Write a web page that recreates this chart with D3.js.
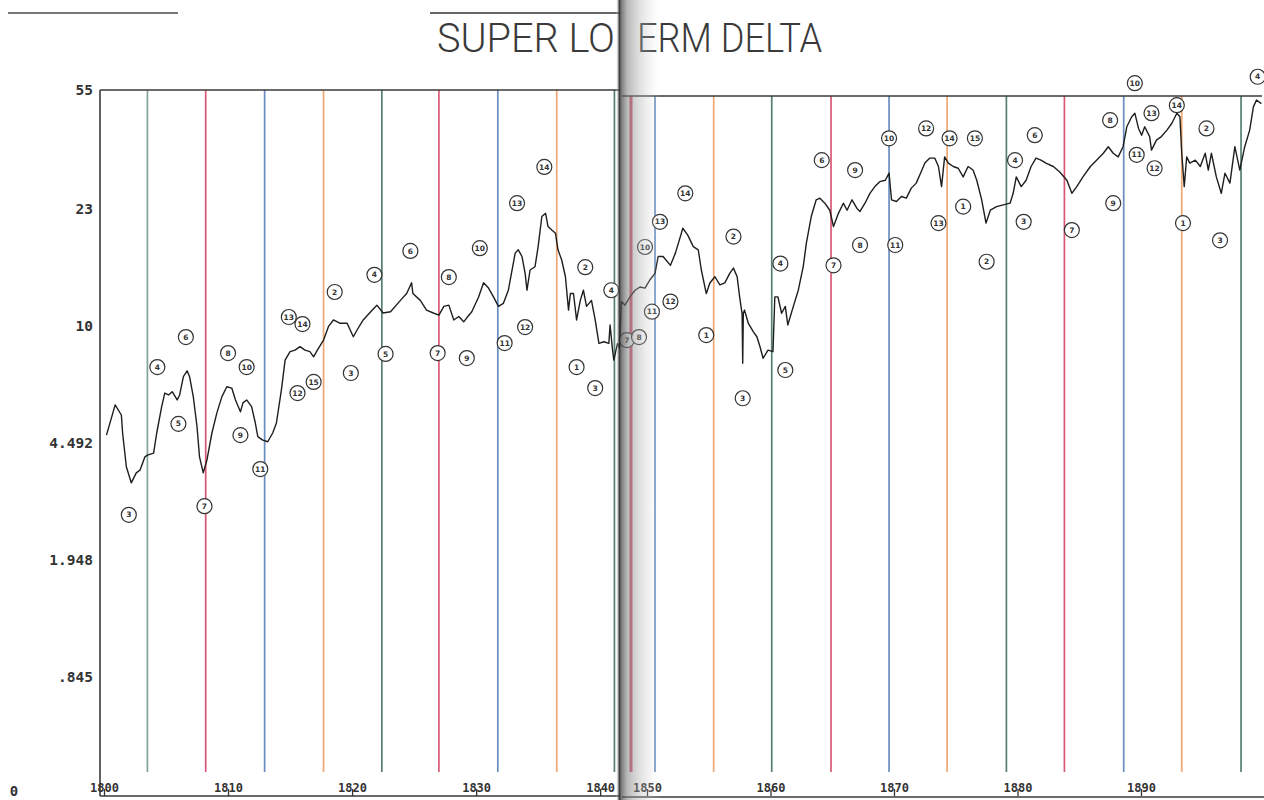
<!DOCTYPE html>
<html><head><meta charset="utf-8">
<script src="https://cdn.jsdelivr.net/npm/d3@7"></script>
<style>html,body{margin:0;padding:0;background:#fff;overflow:hidden}</style>
</head><body>
<svg id="c" width="1264" height="800"></svg>
<script>
// ---------------- DATA ----------------
const titleParts = ["SUPER LO", "ERM DELTA"];

const years = [
1800.2,1800.9,1801.4,1801.5,1801.8,1802.2,1802.6,1802.9,1803.3,1803.5,1804.0,1804.25,1804.65,1804.9,1805.2,1805.5,1805.9,1806.1,1806.4,1806.7,1806.9,1807.2,1807.5,1807.7,1808.0,1808.3,1808.7,1809.1,1809.5,1809.9,
1810.3,1810.6,1811.0,1811.2,1811.5,1811.9,1812.2,1812.4,1812.8,1813.2,1813.6,1813.9,1814.3,1814.6,1815.0,1815.4,1815.8,1816.2,1816.6,1816.9,1817.2,1817.7,1818.1,1818.5,1819.0,1819.6,
1820.1,1820.4,1820.9,1821.5,1822.0,1822.5,1823.1,1823.9,1824.4,1824.8,1824.9,1825.5,1826.0,1826.6,1827.0,1827.4,1827.8,1828.2,1828.6,1829.0,1829.25,1829.65,
1830.2,1830.6,1831.0,1831.4,1831.8,1832.2,1832.6,1832.9,1833.15,1833.4,1833.7,1833.95,1834.1,1834.35,1834.75,1835.0,1835.3,1835.6,1835.8,1836.1,1836.4,1836.6,1836.9,1837.2,1837.45,1837.6,1837.85,1838.1,1838.4,1838.65,1838.9,1839.3,1839.6,1839.9,
1840.3,1840.7,1840.8,1841.0,1841.1,1841.4,1841.55,1842.2,1843.6,1845.6,1847.0,1848.25,1849.5,
1850.24,1850.65,1850.9,1851.3,1851.9,1852.3,1852.7,1852.9,1853.3,1853.75,1854.15,1854.4,1854.8,1855.1,1855.5,1855.9,1856.3,1856.7,1857.0,1857.3,1857.5,1857.7,1857.75,1857.8,1857.9,1858.2,1858.6,1858.9,1859.15,1859.4,1859.8,
1860.2,1860.35,1860.6,1860.9,1861.2,1861.4,1861.85,1862.25,1862.65,1862.9,1863.3,1863.7,1864.0,1864.4,1864.8,1865.1,1865.5,1865.9,1866.2,1866.6,1867.0,1867.25,1867.65,1868.05,1868.45,1868.85,1869.3,1869.6,1869.8,
1870.2,1870.6,1871.0,1871.4,1871.8,1872.2,1872.5,1872.9,1873.3,1873.6,1873.85,1874.1,1874.4,1874.8,1875.2,1875.6,1876.0,1876.4,1876.7,1877.1,1877.45,1877.8,1878.3,1878.85,1879.4,1879.65,1879.9,
1880.3,1880.7,1881.1,1881.5,1881.9,1882.3,1882.9,1883.4,1884.0,1884.4,1884.8,1885.3,1885.9,1886.4,1886.95,1887.35,1887.75,1888.15,1888.55,1888.85,1889.25,1889.5,1889.8,
1890.05,1890.3,1890.7,1890.85,1891.25,1891.65,1892.1,1892.5,1892.9,1893.15,1893.3,1893.5,1893.7,1893.95,1894.4,1894.8,1895.2,1895.45,1895.7,1896.1,1896.5,1896.8,1897.2,1897.6,1898.0,1898.4,1898.8,1899.1,1899.35,1899.75
];
const deltaIndex = [
4.74,5.83,5.44,4.81,3.79,3.38,3.63,3.70,4.07,4.12,4.18,4.81,5.76,6.32,6.24,6.38,6.03,6.24,7.07,7.36,7.07,6.16,5.02,4.07,3.63,3.98,4.81,5.52,6.16,6.60,
6.54,6.03,5.56,5.91,6.03,5.76,5.15,4.69,4.58,4.53,4.81,5.15,6.45,7.92,8.39,8.48,8.68,8.48,8.39,8.10,8.48,9.08,9.97,10.44,10.2,10.2,
9.29,9.73,10.44,11.07,11.6,10.97,11.07,12.0,12.6,13.6,12.6,12.0,11.2,10.95,10.8,11.5,11.6,10.44,10.7,10.3,10.6,11.07,
12.3,13.6,13.1,12.3,11.5,11.75,12.9,14.9,16.8,17.2,16.4,14.55,12.9,14.9,15.25,17.6,21.8,22.3,20.3,19.8,19.35,17.2,16.0,14.2,11.2,12.6,12.6,10.44,12.0,12.9,11.5,12.0,10.44,8.88,
8.98,8.88,10.07,8.48,7.92,8.88,8.6,11.9,11.6,12.3,12.9,13.2,13.1,
13.9,14.55,16.4,16.4,15.4,16.8,18.9,20.05,19.1,17.6,17.2,14.9,12.6,13.6,14.2,13.4,13.6,14.55,15.1,14.2,12.3,10.9,7.75,10.95,11.2,10.2,9.62,9.29,8.68,8.02,8.48,
8.39,12.3,12.3,10.95,11.5,10.07,11.5,12.9,15.25,18.0,21.8,24.6,24.9,24.0,22.8,20.3,22.3,24.0,22.8,24.6,23.1,22.6,24.0,25.8,27.1,28.1,28.4,29.9,24.6,
24.3,25.2,24.9,26.8,27.8,30.2,32.2,33.4,33.4,31.4,27.1,33.7,32.2,31.4,31.0,29.1,31.4,30.6,28.4,24.6,20.8,22.8,23.4,23.7,24.0,25.8,29.1,
27.1,28.4,31.4,33.4,32.9,32.2,31.4,30.2,28.4,25.8,27.1,29.1,31.4,32.9,34.6,36.3,34.6,33.7,36.3,42.0,45.2,46.4,41.5,
39.5,42.0,39.1,35.4,38.1,39.1,41.0,43.1,46.4,45.2,34.6,27.1,33.7,32.2,32.9,31.4,34.6,30.6,34.6,29.1,25.8,29.9,27.8,36.3,30.6,36.3,41.0,48.6,51.1,49.8
];

const yTickValues = [0.845, 1.948, 4.492, 10, 23, 55];
const yTickLabels = [".845", "1.948", "4.492", "10", "23", "55"];
const yBottomValue = 0.3667;
const yBottomLabel = "0";

const decadeTicks = [1800, 1810, 1820, 1830, 1840, 1850, 1860, 1870, 1880, 1890];

const cycleYears = [1803.5,1808.2,1812.95,1817.7,1822.4,1827.0,1831.75,1836.5,1841.15,1846.0,1850.65,1855.4,1860.1,1864.9,1869.6,1874.3,1879.1,1883.8,1888.6,1893.3,1898.1];
const cycleKinds = ["green","red","blue","orange","green","red","blue","orange","green","red","blue","orange","green","red","blue","orange","green","red","blue","orange","green"];

const annYears = [1802.0,1804.3,1806.0,1806.6,1808.1,1810.0,1811.0,1811.5,1812.6,1815.6,1814.9,1816.0,1816.9,1818.6,1819.9,1821.8,1822.7,1824.7,1826.9,1827.8,1829.25,1830.3,1832.3,1833.3,1833.95,1835.5,1838.8,1838.1,1839.6,1840.9,1844.3,1848.0,1849.5,
1850.4,1851.05,1851.9,1853.1,1857.0,1854.8,1857.75,1860.8,1861.2,1864.15,1865.1,1866.85,1867.25,1869.6,1870.1,1872.6,1874.5,1876.55,1873.6,1875.6,1877.5,1879.8,1880.5,1881.4,1884.4,1887.5,1887.75,1889.5,1890.85,1889.65,1891.1,1892.9,1893.4,1895.3,1896.4,1899.45];
const annValues = [2.69,7.55,5.12,9.27,2.86,8.31,4.74,7.55,3.73,6.32,10.66,10.14,6.82,12.74,7.25,14.4,8.26,17.06,8.31,14.17,8.03,17.4,8.90,24.0,9.93,31.3,15.2,7.55,6.54,12.9,9.08,9.27,17.55,
11.07,21.0,11.9,25.8,18.9,9.40,6.10,15.6,7.40,32.9,15.4,30.6,17.8,38.6,17.8,41.5,38.6,38.6,20.8,23.4,15.8,32.9,21.0,39.5,19.8,44.1,24.0,57.8,46.4,34.2,31.0,49.2,20.8,41.5,18.4,60.6];
const annLabels = ["3","4","5","6","7","8","9","10","11","12","13","14","15","2","3","4","5","6","7","8","9","10","11","13","12","14","2","1","3","4","7","8","10",
"11","13","12","14","2","1","3","4","5","6","7","9","8","10","11","12","14","15","13","1","2","4","3","6","7","8","9","10","13","11","12","14","1","2","3","4"];

// ---------------- CHART ----------------
const colorOf = {green:"#4e7a6c", red:"#d8506f", blue:"#6089bd", orange:"#eda46c"};
const svg = d3.select("#c");
svg.append("rect").attr("width",1264).attr("height",800).attr("fill","#fff");

const x = d3.scaleLinear().domain([1800, 1841.6, 1846, 1850, 1900]).range([104, 620, 631, 647, 1264.5]);
const y = d3.scaleLog().domain([yBottomValue, ...yTickValues]).range([795, 677, 560, 443, 326, 209, 90]);

const LEFT_END = 620;

// scan artefact lines at top
svg.append("line").attr("x1",8).attr("x2",178).attr("y1",13).attr("y2",13).attr("stroke","#777").attr("stroke-width",2);
svg.append("line").attr("x1",430).attr("x2",620).attr("y1",13).attr("y2",13).attr("stroke","#666").attr("stroke-width",2);

// title
const titleG = svg.append("g").attr("font-family","Roboto, 'DejaVu Sans', sans-serif").attr("font-weight",300).attr("font-size",41).attr("fill","#3a3a3a");
titleG.append("text").attr("x",437).attr("y",52).attr("textLength",178).attr("lengthAdjust","spacingAndGlyphs").text(titleParts[0]);
titleG.append("text").attr("x",637).attr("y",52).attr("textLength",185).attr("lengthAdjust","spacingAndGlyphs").text(titleParts[1]);

// cycle lines
svg.append("g").selectAll("line").data(cycleYears).join("line")
  .attr("x1", d => x(d)).attr("x2", d => x(d))
  .attr("y1", d => x(d) < LEFT_END ? 90 : 96).attr("y2", 772)
  .attr("stroke", (d,i) => colorOf[cycleKinds[i]])
  .attr("stroke-width", (d,i) => d === 1846.0 ? 3 : 1.7)
  .attr("opacity", (d,i) => i === 0 ? 0.7 : 0.95);

// page frames
const frame = svg.append("g").attr("stroke","#3a3a3a").attr("fill","none");
frame.append("line").attr("x1",100).attr("x2",LEFT_END).attr("y1",90).attr("y2",90).attr("stroke-width",1.6);
frame.append("line").attr("x1",100).attr("x2",100).attr("y1",90).attr("y2",796).attr("stroke-width",1.6);
frame.append("line").attr("x1",100).attr("x2",LEFT_END).attr("y1",796).attr("y2",796).attr("stroke-width",1.6);
frame.append("line").attr("x1",622).attr("x2",1262).attr("y1",96).attr("y2",96).attr("stroke-width",1.6);
frame.append("line").attr("x1",622).attr("x2",1264).attr("y1",797).attr("y2",797).attr("stroke-width",1.6);

// x axis
const xAxis = svg.append("g").attr("transform","translate(0,796)")
  .call(d3.axisBottom(x).tickValues(decadeTicks).tickSize(-7).tickFormat(d3.format("d")));
xAxis.select(".domain").remove();
xAxis.selectAll(".tick line").attr("stroke","#333").attr("stroke-width",1.3);
xAxis.selectAll(".tick text").attr("y",-4).attr("dy","0")
  .attr("font-family","'DejaVu Sans Mono', monospace").attr("font-weight","bold").attr("font-size",12).attr("fill","#333");

// y axis
const yAxis = svg.append("g").attr("transform","translate(100,0)")
  .call(d3.axisLeft(y).tickValues(yTickValues).tickSize(0).tickPadding(7).tickFormat((d,i) => yTickLabels[i]));
yAxis.select(".domain").remove();
yAxis.selectAll(".tick text").attr("font-family","'DejaVu Sans Mono', monospace").attr("font-weight","bold").attr("font-size",14.5).attr("fill","#333");
svg.append("text").attr("x",14).attr("y",796).attr("text-anchor","middle")
  .attr("font-family","'DejaVu Sans Mono', monospace").attr("font-weight","bold").attr("font-size",14).attr("fill","#333")
  .text(yBottomLabel);

// data line
const pts = years.map((yr,i) => [yr, deltaIndex[i]]);
svg.append("path").datum(pts)
  .attr("fill","none").attr("stroke","#1e1e1e").attr("stroke-width",1.4).attr("stroke-linejoin","round")
  .attr("d", d3.line().x(d => x(d[0])).y(d => y(d[1])));

// annotations
const ann = svg.append("g").selectAll("g").data(annYears.map((yr,i) => ({yr, v: annValues[i], t: annLabels[i]}))).join("g")
  .attr("transform", d => `translate(${x(d.yr)},${y(d.v)})`);
ann.append("circle").attr("r",7.5).attr("fill","#fff").attr("stroke","#333").attr("stroke-width",1.2);
ann.append("text").attr("text-anchor","middle").attr("dy","0.35em")
  .attr("font-family","'DejaVu Sans', sans-serif").attr("font-weight","bold").attr("font-size",7.5).attr("fill","#333")
  .text(d => d.t);

// book gutter shading
const defs = svg.append("defs");
const gr = defs.append("linearGradient").attr("id","gutter").attr("x1","0").attr("x2","1").attr("y1","0").attr("y2","0");
[[0,"#ffffff",0],[0.07,"#202020",0.9],[0.12,"#505050",0.75],[0.25,"#808080",0.55],[0.5,"#a8a8a8",0.38],[0.75,"#d0d0d0",0.22],[1,"#ffffff",0]]
  .forEach(s => gr.append("stop").attr("offset", s[0]).attr("stop-color", s[1]).attr("stop-opacity", s[2]));
svg.append("rect").attr("x",616).attr("y",0).attr("width",46).attr("height",800).attr("fill","url(#gutter)");
</script>
</body></html>
